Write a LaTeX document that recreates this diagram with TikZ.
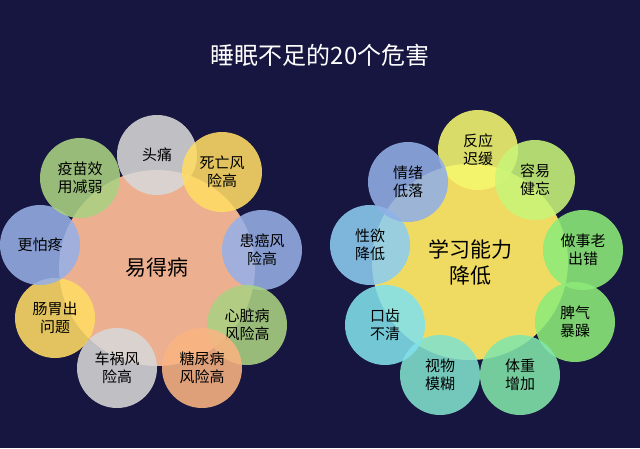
\documentclass[tikz,border=0pt]{standalone}
\usepackage{fontspec}
\setmainfont{Noto Sans CJK SC}
\usetikzlibrary{positioning}
\definecolor{bgnavy}{RGB}{22,22,64}
\definecolor{cgray}{RGB}{215,215,215}
\definecolor{cyel}{RGB}{255,220,100}
\definecolor{cblue}{RGB}{150,175,230}
\definecolor{cgreen}{RGB}{170,210,130}
\definecolor{corange}{RGB}{250,180,130}
\definecolor{cpeach}{RGB}{248,185,150}
\definecolor{rlemon}{RGB}{245,248,110}
\definecolor{rlime}{RGB}{200,245,120}
\definecolor{rgreen}{RGB}{140,235,120}
\definecolor{rmint}{RGB}{130,230,170}
\definecolor{rteal}{RGB}{130,225,205}
\definecolor{rcyan}{RGB}{130,225,235}
\definecolor{rsky}{RGB}{140,205,240}
\definecolor{rblue}{RGB}{145,175,230}
\definecolor{rcore}{RGB}{252,230,100}

\begin{document}
\begin{tikzpicture}[x=1pt,y=-1pt,
    petal/.style={circle, minimum size=80pt, inner sep=0pt, fill opacity=0.88, text opacity=1, align=center, font=\fontsize{15}{18}\selectfont, text=black},
    core/.style={circle, minimum size=196pt, inner sep=0pt, fill opacity=0.95, text opacity=1, align=center, font=\fontsize{21}{26}\selectfont},
]
    \fill[bgnavy] (0,0) rectangle (640,448);
    \useasboundingbox (0,0) rectangle (640,448);

    % Title
    \node[text=white, font=\fontsize{24}{28}\selectfont] (title) at (320,55) {睡眠不足的20个危害};

    % Left cluster
    \node[core, fill=cpeach] (lcore) at (157,268) {易得病};
    \foreach \x/\y/\c/\t [count=\i] in {
        157/155/cgray/头痛,
        222/172/cyel/{死亡风\\险高},
        262/250/cblue/{患癌风\\险高},
        247/325/cgreen/{心脏病\\风险高},
        202/368/corange/{糖尿病\\风险高},
        117/368/cgray/{车祸风\\险高},
        55/318/cyel/{肠胃出\\问题},
        40/245/cblue/更怕疼,
        80/178/cgreen/{疫苗效\\用减弱}} {
        \node[petal, fill=\c] (l\i) at (\x,\y) {\t};
    }

    % Right cluster
    \node[core, fill=rcore] (rcore) at (470,262) {学习能力\\降低};
    \foreach \x/\y/\c/\t [count=\i] in {
        478/150/rlemon/{反应\\迟缓},
        535/180/rlime/{容易\\健忘},
        583/250/rgreen/{做事老\\出错},
        575/322/rgreen/{脾气\\暴躁},
        520/375/rmint/{体重\\增加},
        440/375/rteal/{视物\\模糊},
        385/325/rcyan/{口齿\\不清},
        370/245/rsky/{性欲\\降低},
        408/182/rblue/{情绪\\低落}} {
        \node[petal, fill=\c] (r\i) at (\x,\y) {\t};
    }
\end{tikzpicture}
\end{document}
